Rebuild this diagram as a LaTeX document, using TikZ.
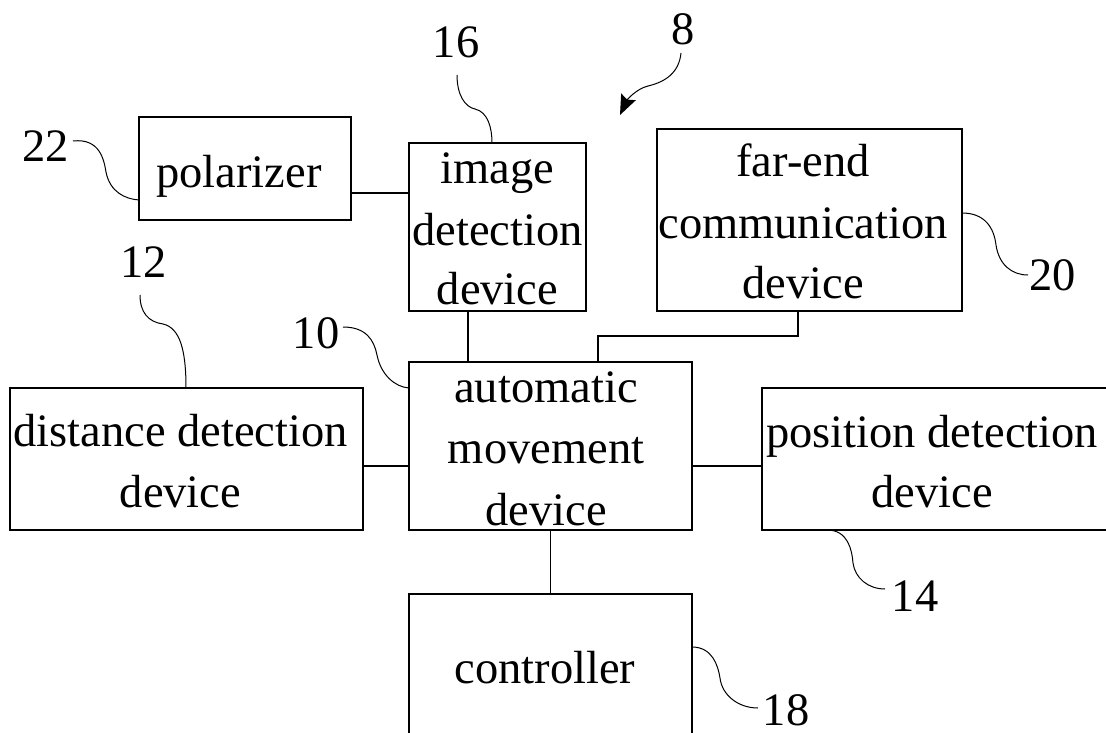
\documentclass[tikz,border=0pt]{standalone}
\usepackage{fontspec}
\setmainfont{Liberation Serif}
\usetikzlibrary{arrows.meta}
\begin{document}
\begin{tikzpicture}[x=1pt,y=-1pt,
  box/.style={draw,line width=1.4pt,inner sep=0pt,outer sep=0pt},
  txt/.style={anchor=base,inner sep=0pt,font=\fontsize{46.5}{57}\selectfont},
  lead/.style={line width=1pt},
  wire/.style={line width=1.3pt}]
\useasboundingbox (0,0) rectangle (1106,733);
\clip (0,0) rectangle (1106,733);
% boxes
\node[box,minimum width=212pt,minimum height=103pt] (pol) at (245,168.5) {};
\node[box,minimum width=177pt,minimum height=168pt] (img) at (497.5,227) {};
\node[box,minimum width=305pt,minimum height=182pt] (far) at (809.5,220) {};
\node[box,minimum width=283pt,minimum height=168pt] (auto) at (550.5,446) {};
\node[box,minimum width=353pt,minimum height=142pt] (dist) at (186.5,459) {};
\node[box,minimum width=360pt,minimum height=142pt] (pos) at (942,459) {};
\node[box,minimum width=283pt,minimum height=160pt] (ctl) at (550.5,674) {};
% texts
\node[txt] (tpol) at (239,187) {polarizer};
\node[txt] (timg1) at (497.5,183) {image};
\node[txt] (timg2) at (497.5,245) {detection};
\node[txt] (timg3) at (497.5,304) {device};
\node[txt] (tfar1) at (803,177) {far-end};
\node[txt] (tfar2) at (803,238) {communication};
\node[txt] (tfar3) at (803,298) {device};
\node[txt] (tauto1) at (546,402) {automatic};
\node[txt] (tauto2) at (546,463) {movement};
\node[txt] (tauto3) at (546,525) {device};
\node[txt] (tdist1) at (180.5,446) {distance detection};
\node[txt] (tdist2) at (180.5,507) {device};
\node[txt] (tpos1) at (932,447) {position detection};
\node[txt] (tpos2) at (932,507) {device};
\node[txt] (tctl) at (545,683) {controller};
% reference numerals
\node[txt] (n22) at (46,162) {22};
\node[txt] (n12) at (143.5,277) {12};
\node[txt] (n10) at (316,348) {10};
\node[txt] (n16) at (456,58) {16};
\node[txt] (n8) at (683,45) {8};
\node[txt] (n20) at (1052.5,290) {20};
\node[txt] (n14) at (915,611) {14};
\node[txt] (n18) at (786,725) {18};
% connectors
\coordinate (c1) at (380,193);
\coordinate (c2) at (468,0);
\coordinate (c3) at (798,0);
\coordinate (c4) at (598,336);
\coordinate (c5) at (0,466);
\draw[wire] (c1 -| pol.east) -- (c1 -| img.west);
\draw[wire] (c2 |- img.south) -- (c2 |- auto.north);
\draw[wire] (c3 |- far.south) |- (c4) -- (c4 |- auto.north);
\draw[wire] (c5 -| dist.east) -- (c5 -| auto.west);
\draw[wire] (c5 -| auto.east) -- (c5 -| pos.west);
\draw[wire] (auto.south) -- (ctl.north);
% leader lines
\draw[lead] (73,141) .. controls (100,138) and (104,160) .. (106,172) .. controls (110,192) and (125,199) .. (139,200);
\draw[lead] (140,295) .. controls (140,312) and (148,322) .. (163,324) .. controls (180,328) and (186,350) .. (186,388);
\draw[lead] (343,327) .. controls (366,327) and (374,340) .. (377,355) .. controls (381,375) and (395,387) .. (409,388);
\draw[lead] (457,75) .. controls (457,95) and (465,107) .. (475,109) .. controls (488,112) and (492,128) .. (492,143);
\draw[lead] (962,213) .. controls (985,213) and (994,228) .. (996,245) .. controls (999,265) and (1012,275) .. (1028,275);
\draw[lead] (827,530) .. controls (848,530) and (852,550) .. (853,563) .. controls (855,578) and (868,589) .. (885,589);
\draw[lead] (692,647) .. controls (712,647) and (718,665) .. (720,678) .. controls (722,695) and (738,708) .. (758,708);
\draw[lead,-{Stealth[length=20pt,width=16pt,inset=3pt]}] (681,53) .. controls (679,73) and (665,82) .. (648,86) .. controls (636,89) and (627,100) .. (620,115);
\end{tikzpicture}
\end{document}
